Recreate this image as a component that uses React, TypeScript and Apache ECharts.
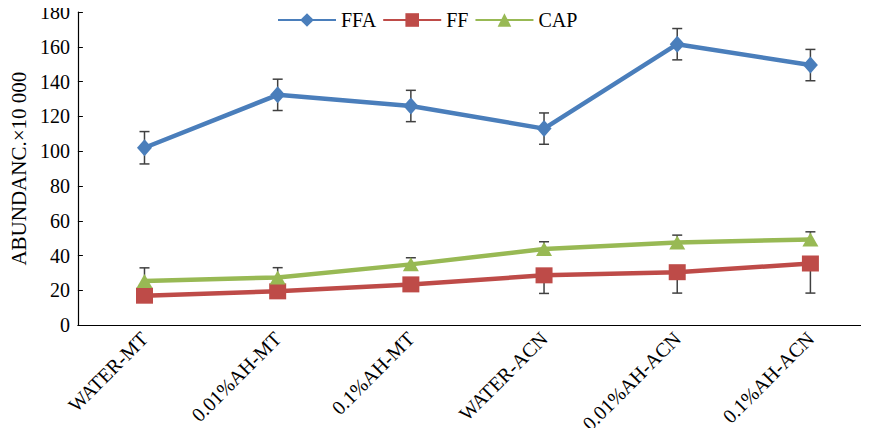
import React, { useEffect, useRef } from "react";
import * as echarts from "echarts";

const categories = ["WATER-MT", "0.01%AH-MT", "0.1%AH-MT", "WATER-ACN", "0.01%AH-ACN", "0.1%AH-ACN"];
const ffa = [102, 132.4, 126, 113, 161.5, 149.5];
const ffaErr = [9.3, 9, 9, 9, 9, 9];
const ff = [17, 19.5, 23.5, 28.7, 30.5, 35.5];
const ffErr = [1.5, 1.5, 2, 10.4, 12, 17];
const cap = [25.4, 27.5, 35, 43.8, 47.6, 49.3];
const capErr = [7.6, 5.6, 3.8, 4.2, 4.2, 4.4];
const yTicks = { min: 0, max: 180, interval: 20 };

const BLUE = "#4a7ebb";
const RED = "#be4b48";
const GREEN = "#98b954";
const FONT = "'Liberation Serif', 'Times New Roman', serif";

function errData(vals: number[], errs: number[], up: boolean, down: boolean) {
  return vals.map((v, i) => [i, down ? v - errs[i] : v, up ? v + errs[i] : v]);
}

function errSeries(name: string, data: number[][], showTop: boolean, showBottom: boolean) {
  return {
    type: "custom",
    name: name + "-err",
    z: 1,
    silent: true,
    data,
    renderItem: (params: any, api: any) => {
      const x = api.value(0);
      const lo = api.coord([x, api.value(1)]);
      const hi = api.coord([x, api.value(2)]);
      const style = { stroke: "#404040", lineWidth: 1.5 };
      const hw = 5;
      const children: any[] = [
        { type: "line", shape: { x1: lo[0], y1: lo[1], x2: hi[0], y2: hi[1] }, style },
      ];
      if (showTop) children.push({ type: "line", shape: { x1: hi[0] - hw, y1: hi[1], x2: hi[0] + hw, y2: hi[1] }, style });
      if (showBottom) children.push({ type: "line", shape: { x1: lo[0] - hw, y1: lo[1], x2: lo[0] + hw, y2: lo[1] }, style });
      return { type: "group", children };
    },
  };
}

export default function App() {
  const ref = useRef<HTMLDivElement>(null);
  useEffect(() => {
    if (!ref.current) return;
    const chart = echarts.init(ref.current, undefined, { renderer: "svg" });
    const lineSeries = (name: string, data: number[], color: string, symbol: string, size: number | number[]) => ({
      type: "line",
      name,
      data,
      z: 3,
      symbol,
      symbolSize: size,
      showAllSymbol: true,
      lineStyle: { color, width: 4.5 },
      itemStyle: { color, borderColor: color, borderWidth: 0 },
    });
    chart.setOption({
      animation: false,
      textStyle: { fontFamily: FONT },
      legend: {
        top: 5,
        left: 272,
        itemWidth: 58,
        itemHeight: 17,
        itemGap: 6,
        textStyle: { fontFamily: FONT, fontSize: 20, color: "#000" },
        data: ["FFA", "FF", "CAP"],
      },
      grid: { left: 70, right: 0, top: 12, bottom: 110, containLabel: false },
      xAxis: {
        type: "category",
        data: categories,
        boundaryGap: true,
        axisLine: { lineStyle: { color: "#000", width: 1.2 } },
        axisTick: { inside: true, length: 6, lineStyle: { color: "#000" } },
        axisLabel: { rotate: 45, fontFamily: FONT, fontSize: 20, color: "#000", margin: 10 },
      },
      yAxis: {
        type: "value",
        min: yTicks.min,
        max: yTicks.max,
        interval: yTicks.interval,
        name: "ABUNDANC.×10 000",
        nameLocation: "middle",
        nameGap: 42,
        nameTextStyle: { fontFamily: FONT, fontSize: 21, color: "#000" },
        axisLine: { show: true, lineStyle: { color: "#000", width: 1.2 } },
        axisTick: { show: true, inside: true, length: 5, lineStyle: { color: "#000" } },
        axisLabel: { fontFamily: FONT, fontSize: 20, color: "#000", margin: 8 },
        splitLine: { show: false },
      },
      series: [
        errSeries("FFA", errData(ffa, ffaErr, true, true), true, true),
        errSeries("FF", errData(ff, ffErr, false, true), false, true),
        errSeries("CAP", errData(cap, capErr, true, false), true, false),
        lineSeries("FFA", ffa, BLUE, "diamond", [15, 17]),
        lineSeries("FF", ff, RED, "rect", [17, 16]),
        lineSeries("CAP", cap, GREEN, "triangle", [16, 14]),
      ],
    });
    return () => chart.dispose();
  }, []);
  return (
    <div style={{ width: 869, height: 436, margin: -8, overflow: "hidden" }}>
      <div ref={ref} style={{ width: 877, height: 436 }} />
    </div>
  );
}
